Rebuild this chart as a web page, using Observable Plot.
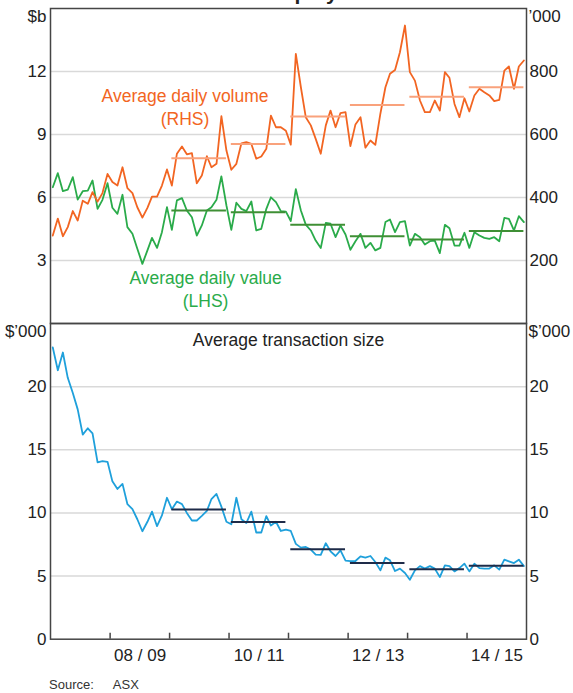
<!DOCTYPE html>
<html><head><meta charset="utf-8">
<script src="https://cdn.jsdelivr.net/npm/d3@7"></script>
<script src="https://cdn.jsdelivr.net/npm/@observablehq/plot@0.6"></script>
<style>
body{margin:0;background:#fff;font-family:Arial,"Liberation Sans",sans-serif;}
#wrap{position:relative;width:573px;height:693px;overflow:hidden;background:#fff;}
#wrap svg{position:absolute;left:0;}
#title{position:absolute;top:-17px;left:0;width:576px;text-align:center;font-weight:bold;font-size:21px;line-height:20px;color:#222;z-index:5;}
#source{position:absolute;left:49px;top:677px;font-size:13px;color:#333;z-index:5;}
</style></head><body>
<div id="wrap"><div id="title">Australian Equity Market</div><div id="source">Source:<span style="margin-left:19px">ASX</span></div></div>
<script>
// ---- data (monthly, from July 2007) ----
const startMonth = "2007-07";
// Average daily volume, '000 trades (RHS)
const volume = [279,333,277,306,357,327,390,380,417,387,
414,475,449,438,496,430,414,369,336,367,
403,403,438,489,438,539,562,537,541,445,
470,531,496,507,658,549,488,507,572,576,
570,523,530,555,660,623,623,612,568,856,
750,655,629,586,539,629,676,623,668,671,
563,632,655,558,581,567,666,750,793,805,
861,946,798,771,708,671,671,708,676,798,
780,697,655,715,673,724,745,734,724,706,
710,803,816,745,816,835];
// Average daily value, $b (LHS)
const value = [6.49,7.16,6.30,6.37,6.97,5.90,6.30,6.33,6.81,5.46,
5.89,6.68,5.51,5.22,6.13,4.59,4.27,3.56,2.84,3.48,
4.08,3.60,4.35,5.54,4.46,5.86,5.97,5.38,5.06,4.19,
4.67,5.38,5.54,5.89,7.01,5.62,4.46,5.75,5.46,5.35,
5.81,4.43,4.51,5.46,6.01,5.78,5.35,5.33,4.88,6.40,
5.38,4.71,4.43,3.95,3.59,4.79,4.75,4.11,4.67,4.24,
3.51,3.92,4.27,3.60,3.84,3.48,3.60,4.83,4.95,4.35,
4.83,4.87,3.71,4.27,4.11,3.76,3.92,3.95,3.35,4.70,
4.54,3.71,3.71,4.32,3.60,4.35,4.19,4.08,4.03,4.11,
3.92,5.03,4.98,4.43,5.11,4.83];
// Average transaction size, $'000
const txSize = [23.1,21.3,22.7,20.7,19.5,18.2,16.2,16.7,16.3,14.0,
14.1,14.05,12.5,11.9,12.3,10.7,10.3,9.5,8.55,9.3,
10.1,8.95,9.8,11.2,10.3,10.9,10.7,10.0,9.4,9.4,
9.76,10.16,11.1,11.5,10.5,9.3,9.1,11.2,9.5,9.2,
10.1,8.45,8.45,9.75,9.0,9.3,8.57,8.68,8.57,7.55,
7.25,7.3,7.1,6.7,6.68,7.6,6.96,6.59,7.04,6.22,
6.19,6.19,6.56,6.46,6.59,6.11,5.45,6.46,6.25,5.4,
5.59,5.24,4.71,5.45,5.79,5.59,5.79,5.59,4.92,5.85,
5.79,5.37,5.63,5.98,5.37,5.98,5.63,5.59,5.59,5.85,
5.51,6.3,6.17,6.03,6.3,5.79];
// Financial-year averages (FY starting July of year)
const fyStarts = [2009,2010,2011,2012,2013,2014];
const volumeAvg = [525,570,657,694,720,750];
const valueAvg = [5.38,5.30,4.70,4.16,4.00,4.40];
const txAvg = [10.27,9.29,7.12,6.03,5.53,5.82];
// x axis
const fyLabels = ["08 / 09","10 / 11","12 / 13","14 / 15"];
const fyLabelYears = [2008,2010,2012,2014];
const tickYears = [2008,2009,2010,2011,2012,2013,2014];
const domainYears = [2007,2015];
// ticks
const leftTop = [3,6,9,12];
const rightTop = [200,400,600,800];
const bottomTicks = [0,5,10,15,20];
const volNote = {text:"Average daily volume\n(RHS)", date:"2009-10-04", level:689};
const valNote = {text:"Average daily value\n(LHS)", date:"2010-02-07", level:1.67};

// ---- build ----
const start = d3.utcParse("%Y-%m")(startMonth);
const mid = i => d3.utcDay.offset(d3.utcMonth.offset(start, i), 14);
const rows = volume.map((v,i)=>({date: mid(i), volume: v, value: value[i], size: txSize[i]}));
const avgRows = fyStarts.map((y,i)=>({
  x1: new Date(Date.UTC(y,6,15)), x2: new Date(Date.UTC(y+1,5,15)),
  volume: volumeAvg[i], value: valueAvg[i], size: txAvg[i]}));
const xDomain = [new Date(Date.UTC(domainYears[0],6,1)), new Date(Date.UTC(domainYears[1],6,1))];
const tickDates = tickYears.map(y=>new Date(Date.UTC(y,6,1)));
const labelMap = new Map(fyLabelYears.map((y,i)=>[+new Date(Date.UTC(y+1,0,1)), fyLabels[i]]));
const labelDates = [...labelMap.keys()].map(t=>new Date(t));

const C = {orange:"#f26522", orangeAvg:"#f9a27c", green:"#2aab4a", greenAvg:"#3f8f35",
  blue:"#1fa0db", navy:"#1e2b48", grid:"#d9d9d9", frame:"#454545", text:"#222"};
const font = "Arial, 'Liberation Sans', sans-serif";
const base = {width:573, marginLeft:50, marginRight:47,
  style:{fontFamily:font, fontSize:"17px", color:C.text, background:"transparent", overflow:"visible"}};
const xs = {type:"utc", domain:xDomain, axis:null};
const noteSize = 17.5;

const p1 = Plot.plot({...base, height:331, marginTop:8, marginBottom:8, x:xs,
  y:{domain:[0,15], axis:null},
  marks:[
    Plot.gridY(leftTop, {stroke:C.grid, strokeOpacity:1, strokeWidth:1.5}),
    Plot.lineY(rows, {x:"date", y:"value", stroke:C.green, strokeWidth:1.8}),
    Plot.ruleY(avgRows, {x1:"x1", x2:"x2", y:"value", stroke:C.greenAvg, strokeWidth:2}),
    Plot.axisY(leftTop, {anchor:"left", tickSize:0, tickPadding:4, label:null}),
    Plot.text(["$b"], {text:d=>d, frameAnchor:"top-left", lineAnchor:"middle", dx:-4, dy:8, textAnchor:"end"}),
    Plot.text([valNote], {x:d=>new Date(d.date), y:"level", text:"text", fill:C.green, fontSize:noteSize, lineHeight:1.3}),
    Plot.frame({stroke:C.frame, strokeWidth:1.5})
  ]});

const p2 = Plot.plot({...base, height:331, marginTop:8, marginBottom:8, x:xs,
  y:{domain:[0,1000], axis:null},
  marks:[
    Plot.lineY(rows, {x:"date", y:"volume", stroke:C.orange, strokeWidth:1.8}),
    Plot.ruleY(avgRows, {x1:"x1", x2:"x2", y:"volume", stroke:C.orangeAvg, strokeWidth:2}),
    Plot.axisY(rightTop, {anchor:"right", tickSize:0, tickPadding:3, label:null}),
    Plot.text(["’000"], {text:d=>d, frameAnchor:"top-right", lineAnchor:"middle", dx:2, dy:8, textAnchor:"start"}),
    Plot.text([volNote], {x:d=>new Date(d.date), y:"level", text:"text", fill:C.orange, fontSize:noteSize, lineHeight:1.3})
  ]});

const p3 = Plot.plot({...base, height:370, marginTop:13, marginBottom:41.3, x:xs,
  y:{domain:[0,25], axis:null},
  marks:[
    Plot.gridY([5,10,15,20], {stroke:C.grid, strokeOpacity:1, strokeWidth:1.5}),
    Plot.lineY(rows, {x:"date", y:"size", stroke:C.blue, strokeWidth:1.8}),
    Plot.ruleY(avgRows, {x1:"x1", x2:"x2", y:"size", stroke:C.navy, strokeWidth:2}),
    Plot.axisY(bottomTicks, {anchor:"left", tickSize:0, tickPadding:4, label:null}),
    Plot.axisY(bottomTicks, {anchor:"right", tickSize:0, tickPadding:3, label:null}),
    Plot.axisX(tickDates, {anchor:"bottom", tickSize:-6, tickFormat:()=>"", stroke:C.frame, strokeWidth:1.5, label:null}),
    Plot.axisX(labelDates, {anchor:"bottom", tickSize:0, tickPadding:10, tickFormat:d=>labelMap.get(+d), label:null}),
    Plot.text(["$’000"], {text:d=>d, frameAnchor:"top-left", lineAnchor:"middle", dx:-4, dy:8, textAnchor:"end"}),
    Plot.text(["$’000"], {text:d=>d, frameAnchor:"top-right", lineAnchor:"middle", dx:2, dy:8, textAnchor:"start"}),
    Plot.text(["Average transaction size"], {text:d=>d, frameAnchor:"top", lineAnchor:"middle", dy:17, fontSize:noteSize}),
    Plot.frame({stroke:C.frame, strokeWidth:1.5})
  ]});

const wrap = document.getElementById("wrap");
p1.style.top = "0px"; p2.style.top = "0px"; p3.style.top = "310px";
wrap.appendChild(p1); wrap.appendChild(p2); wrap.appendChild(p3);
</script>
</body></html>
